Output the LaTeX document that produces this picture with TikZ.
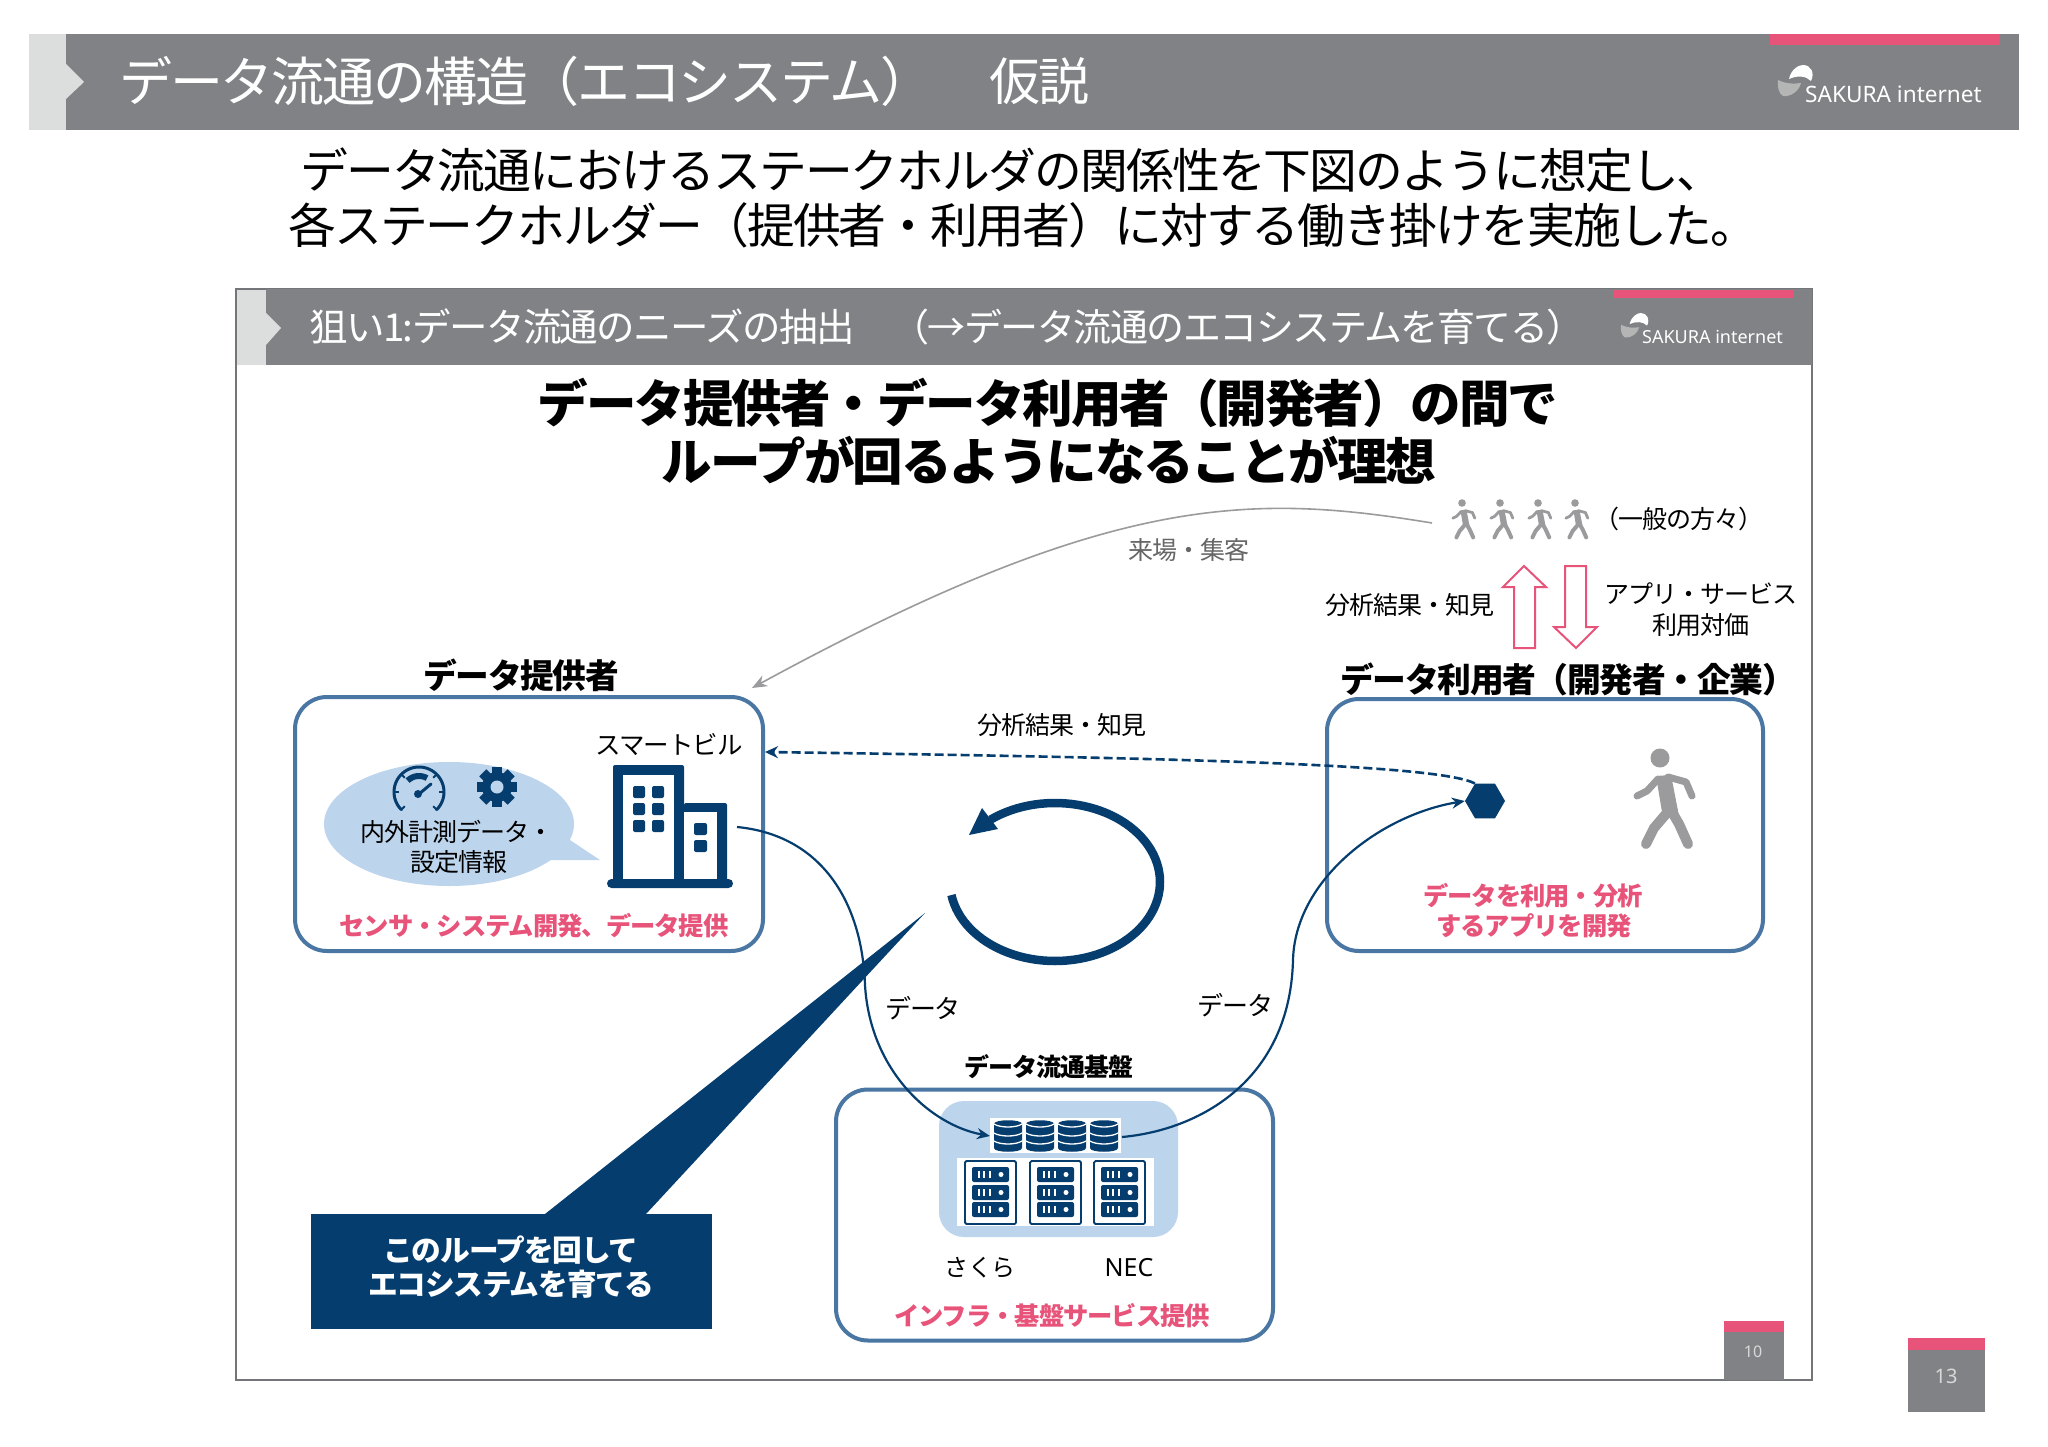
\documentclass[tikz,border=0pt]{standalone}
\usepackage{fontspec}
\usetikzlibrary{arrows.meta,shapes.geometric}
\setmainfont{Noto Sans CJK JP}[LetterSpace=-4]
\newfontfamily\latinf{Noto Sans}
\newcommand\fs[1]{\fontsize{#1}{#1}\selectfont}
\definecolor{hdr}{HTML}{808285}
\definecolor{lgray}{HTML}{DCDDDD}
\definecolor{pinkc}{HTML}{E8537A}
\definecolor{navy}{HTML}{053D6E}
\definecolor{boxb}{HTML}{4A76A3}
\definecolor{pale}{HTML}{BCD4EC}
\definecolor{persong}{HTML}{9B9B9D}
\tikzset{
  txt/.style={inner sep=0pt,anchor=center,text=black},
  reg/.style={txt,font=\fs{25}},
  boldt/.style={txt,font=\bfseries\fs{#1}},
  pinkt/.style={txt,text=pinkc,font=\bfseries\fs{25.3}},
  holder/.style={draw=boxb,line width=4pt,rounded corners=32pt,fill=none,inner sep=0pt},
  flow/.style={draw=navy,line width=2.2pt,-{Stealth[length=13pt,width=11pt]}},
  hollow/.style={draw=pinkc,line width=2pt,fill=white,line join=miter},
}
% walking figure: #1 x of head, #2 y of head, #3 scale
\newcommand\walker[3]{%
  \begin{scope}[shift={(#1,#2)},scale=#3,draw=persong,fill=persong,line cap=round,line join=round]
    \fill (0,0) circle (9.5);
    \fill[rounded corners=#3*3pt] (-4,18) -- (11,17) -- (19,58) -- (3,60) -- cycle;
    \draw[line width=#3*7pt] (-2,21) -- (-13,33) -- (-23,38);
    \draw[line width=#3*7pt] (8,19) -- (26,24) -- (32,38);
    \draw[line width=#3*10pt] (6,56) -- (-6,70) -- (-14,86);
    \draw[line width=#3*10pt] (12,54) -- (19,66) -- (28,86);
  \end{scope}}
% logo: #1 dx, #2 dy, #3 scale, reference origin at big logo
\newcommand\sakuralogo[3]{%
  \begin{scope}[shift={(#1,#2)},scale=#3]
    \fill[white] (11,14) .. controls (13,4) and (21,0) .. (25,0) .. controls (33,0) and (37,8) .. (33,16) .. controls (28,11) and (20,10) .. (11,14) -- cycle;
    \fill[black!5!gray!55] (0,15) .. controls (8,19) and (16,19) .. (23,18) .. controls (21,26) and (13,32) .. (5,31) .. controls (1,29) and (-1,22) .. (0,15) -- cycle;
  \end{scope}}
\newcommand\dbstack[1]{%
  \begin{scope}[shift={(#1,1120)}]
    \fill[navy] (-14,4) .. controls (-14,-1) and (14,-1) .. (14,4) -- (14,28) .. controls (14,33) and (-14,33) .. (-14,28) -- cycle;
    \foreach \yy in {4,13,21}{
      \draw[white,line width=1.3pt] (-14,\yy) .. controls (-8,\yy+4) and (8,\yy+4) .. (14,\yy);
    }
  \end{scope}}
\newcommand\serverbox[1]{%
  \begin{scope}[shift={(#1,1161)}]
    \draw[navy,line width=1.8pt,rounded corners=1.5pt] (0,0) rectangle (51,63);
    \foreach \yy in {6,24,41}{
      \fill[navy,rounded corners=2pt] (7,\yy) rectangle (44,\yy+15);
      \foreach \bx in {12.5,18,23.5}{\fill[white] (\bx,\yy+4) rectangle (\bx+2,\yy+11);}
      \fill[white] (36,\yy+7.5) circle (2.5);
    }
  \end{scope}}
\begin{document}
\begin{tikzpicture}[x=1pt,y=-1pt]
\useasboundingbox (0,0) rectangle (2048,1447);
\fill[white] (0,0) rectangle (2048,1447);

% main header
\fill[lgray] (29,34) rectangle (66,130);
\fill[hdr] (66,34) rectangle (2019,130);
\fill[lgray] (66,64) -- (84,82) -- (66,99) -- cycle;
\fill[pinkc] (1770,34) rectangle (2000,45);
\sakuralogo{1778}{65}{1}
\node[txt,text=white,font=\latinf\fs{22.6},anchor=west] (logoa) at (1805,94) {SAKURA internet};
\node[txt,text=white,font=\fs{53},anchor=west] (maintitle) at (119,81) {データ流通の構造（エコシステム）};
\node[txt,text=white,font=\fs{51},anchor=west] (maintitleb) at (989,81) {仮説};

% lead lines
\node[txt,font=\fs{47.8},anchor=west] (leada) at (300,170) {データ流通におけるステークホルダの関係性を下図のように想定し、};
\node[txt,font=\fs{47.8},anchor=west] (leadb) at (288,225) {各ステークホルダー（提供者・利用者）に対する働き掛けを実施した。};

% inner slide
\draw[hdr!90!black,line width=2pt] (236,289) rectangle (1812,1380);
\fill[lgray] (237,290) rectangle (266,365);
\fill[hdr] (266,289) rectangle (1812,365);
\fill[lgray] (266,313) -- (281,328) -- (266,345) -- cycle;
\fill[pinkc] (1613,290) rectangle (1794,298);
\sakuralogo{1621}{313}{0.79}
\node[txt,text=white,font=\latinf\fs{18},anchor=west] (logob) at (1642,337) {SAKURA internet};
\node[txt,text=white,font=\fs{38.5},anchor=west] (subtitle) at (309,327) {狙い1:データ流通のニーズの抽出};
\node[txt,text=white,font=\fs{38},anchor=west] (subtitleb) at (891,327) {（→データ流通のエコシステムを育てる）};

\node[boldt=50.5] (heada) at (1048,403) {データ提供者・データ利用者（開発者）の間で};
\node[boldt=50.5] (headb) at (1049,461) {ループが回るようになることが理想};

% holders
\node[holder,minimum width=468pt,minimum height=254pt] (provider) at (529,824) {};
\node[holder,minimum width=436pt,minimum height=252pt] (user) at (1545,825) {};
\node[holder,minimum width=437pt,minimum height=251pt] (infra) at (1054.5,1215) {};

\node[boldt=33.7] (providerlabel) at (521,675) {データ提供者};
\node[boldt=33.8] (userlabel) at (1568,679) {データ利用者（開発者・企業）};
\node[boldt=25] (infralabel) at (1049,1067) {データ流通基盤};

% provider contents
\node[fill=pale,ellipse,inner sep=0pt,minimum width=250pt,minimum height=124pt] (bubble) at (449,824) {};
\fill[pale] (570,840) -- (600,860) -- (548,860) -- cycle;
\draw[navy,line width=3pt,line cap=round] plot[domain=135:405,samples=50] ({419+25*cos(\x)},{792+25*sin(\x)});
\draw[navy,line width=6pt] plot[domain=225:300,samples=20] ({419+16*cos(\x)},{792+16*sin(\x)});
\draw[navy,line width=3pt,line cap=round] (419,794) -- (431,784);
\fill[navy] (418,794) circle (4);
\foreach \a in {135,405,180,360,225,315}{\draw[navy,line width=1.8pt] ({419+20*cos(\a)},{792+20*sin(\a)}) -- ({419+25*cos(\a)},{792+25*sin(\a)});}
\fill[navy] (497,787) circle (15);
\foreach \a in {0,45,...,315}{\fill[navy,rotate around={\a:(497,787)}] (492,767) rectangle (502,780);}
\fill[pale] (497,787) circle (6.5);
\node[reg] (bubblea) at (457,832) {内外計測データ・};
\node[reg] (bubbleb) at (459,862) {設定情報};

\node[txt,font=\fs{25.5}] (smart) at (669,745) {スマートビル};
% building
\fill[navy,rounded corners=2pt] (613,765) rectangle (684,885);
\fill[navy,rounded corners=2pt] (684,803) rectangle (727,885);
\fill[navy,rounded corners=4.5pt] (607,879) rectangle (733,888);
\fill[white] (623,775) rectangle (674,879);
\fill[white] (684,812) rectangle (717,879);
\foreach \cx in {633,652}\foreach \cy in {786,803,820}{\fill[navy,rounded corners=2pt] (\cx,\cy) rectangle (\cx+12,\cy+12);}
\foreach \cy in {823,840}{\fill[navy,rounded corners=2pt] (694,\cy) rectangle (707,\cy+12);}
\node[pinkt] (providernote) at (534,926) {センサ・システム開発、データ提供};

% user contents
\node[regular polygon,regular polygon sides=6,fill=navy,inner sep=0pt,minimum size=40pt] (hex) at (1485,801) {};
\walker{1660}{758}{1}
\node[pinkt] (usernotea) at (1533,896) {データを利用・分析};
\node[pinkt] (usernoteb) at (1534,926) {するアプリを開発};

% public
\walker{1462}{503}{0.4}
\walker{1500}{503}{0.4}
\walker{1538}{503}{0.4}
\walker{1575}{503}{0.4}
\coordinate (crowd) at (1432,523);
\node[reg] (general) at (1679,519) {（一般の方々）};
\node[reg,text=black!60] (visit) at (1189,550) {来場・集客};

% hollow arrows
\draw[hollow] (1524,566) -- (1546,587) -- (1535,587) -- (1535,648) -- (1514,648) -- (1514,587) -- (1503,587) -- cycle;
\draw[hollow] (1576,648) -- (1597,627) -- (1586,627) -- (1586,566) -- (1565,566) -- (1565,627) -- (1554,627) -- cycle;
\node[reg] (insighta) at (1410,605) {分析結果・知見};
\node[reg] (appa) at (1701,594) {アプリ・サービス};
\node[reg] (appb) at (1701,625) {利用対価};

% infra contents
\fill[pale,rounded corners=25pt] (939,1101) rectangle (1178,1237);
\fill[white] (990,1118) rectangle (1121,1153);
\fill[white] (957,1158) rectangle (1154,1226);
\dbstack{1008}
\dbstack{1040}
\dbstack{1072}
\dbstack{1104}
\serverbox{965}
\serverbox{1030}
\serverbox{1094}
\node[reg,font=\fs{24}] (sakura) at (980,1268) {さくら};
\node[txt,font=\latinf\fs{25}] (nec) at (1129,1268) {NEC};
\node[pinkt] (infranote) at (1052,1316) {インフラ・基盤サービス提供};

% connectors
\coordinate (bldg) at (737,827);
\coordinate (dbL) at (990,1136);
\coordinate (dbR) at (1122,1137);
\coordinate (provTop) at (752,688);
\draw[flow] (bldg) .. controls (820,835) and (862,900) .. (865,985) .. controls (870,1070) and (930,1125) .. (dbL);
\draw[flow] (dbR) .. controls (1200,1130) and (1290,1080) .. (1293,960) .. controls (1295,880) and (1380,815) .. (hex.west);
\draw[draw=navy,line width=2.6pt,dash pattern=on 9pt off 4pt,-{Stealth[length=13pt,width=12pt]}] (hex.120) .. controls (1440,765) and (1200,758) .. (765,752);
\draw[draw=persong,line width=1.6pt,-{Stealth[length=15pt,width=12pt]}] (crowd) .. controls (1250,493) and (1110,493) .. (provTop);
\node[txt,font=\fs{26}] (dataa) at (923,1008) {データ};
\node[txt,font=\fs{26}] (datab) at (1235,1005) {データ};
\node[reg] (insightb) at (1062,725) {分析結果・知見};

% loop
\draw[navy,line width=8.5pt] plot[domain=170.5:-128,samples=90] ({1055+105*cos(\x)},{882+79*sin(\x)});
\fill[navy] (969,835) -- (982,808) -- (998,829) -- cycle;

% callout
\node[fill=navy,inner sep=0pt,minimum width=401pt,minimum height=115pt] (callout) at (511.5,1271) {};
\fill[navy] (925,913) -- (545,1214) -- (646,1214) -- cycle;
\node[boldt=29.7,text=white] (callouta) at (511,1250) {このループを回して};
\node[boldt=29.7,text=white] (calloutb) at (511,1284) {エコシステムを育てる};

% page numbers
\fill[hdr] (1724,1321) rectangle (1784,1380);
\fill[pinkc] (1724,1321) rectangle (1784,1332);
\node[txt,text=white!85!black,font=\latinf\fs{16}] (pagei) at (1753,1352) {10};
\fill[hdr] (1908,1338) rectangle (1985,1412);
\fill[pinkc] (1908,1338) rectangle (1985,1350);
\node[txt,text=white!85!black,font=\latinf\fs{20}] (pageo) at (1946,1376) {13};
\end{tikzpicture}
\end{document}
